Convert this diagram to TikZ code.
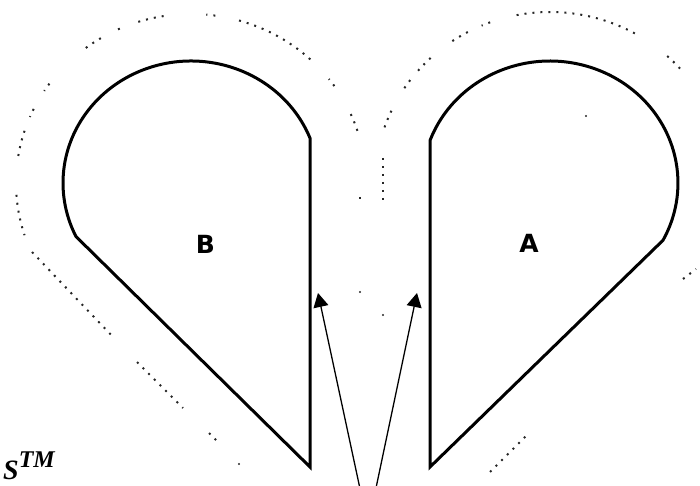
\documentclass[tikz,border=0pt]{standalone}
\usepackage{fontspec}
\usepackage{tikz}
\usetikzlibrary{arrows.meta}
\newfontfamily\labelfont{DejaVu Sans}
\newfontfamily\markfont{Liberation Serif}

\begin{document}
\begin{tikzpicture}[
  x=1pt, y=1pt,
  outline/.style={draw, line width=3pt},
  halo/.style={draw=black!85, line width=2pt, dash pattern=on 2pt off 6pt},
  speck/.style={fill=black!85},
  tag/.style={font=\labelfont\bfseries\fontsize{25}{25}\selectfont, inner sep=0pt},
  arrow/.style={-{Triangle[length=14pt,width=15pt]}, line width=1.3pt}
]
\useasboundingbox (0,0) rectangle (700,485);
\clip (0,0) rectangle (700,485);

% lobe B and lobe A
\draw[outline] (310,18) -- (310,346.9)
  arc[start angle=21.6, end angle=206, x radius=128, y radius=122] -- cycle;
\draw[outline] (430,18) -- (430,344.5)
  arc[start angle=159.6, end angle=-28, x radius=128, y radius=122] -- cycle;

% dotted halos
\foreach \a/\b in {18/26, 35/38, 47/75, 82/85, 99/108, 114/116, 121/128, 144/147, 154/157, 162/172, 184/198}
  \draw[halo, shift={(191,302)}] (\a:175 and 169) arc[start angle=\a, end angle=\b, x radius=175, y radius=169];
\foreach \a/\b in {42/49, 61/102, 110/113, 118/124, 133/139, 143/147, 155/162}
  \draw[halo, shift={(550,302)}] (\a:175 and 171) arc[start angle=\a, end angle=\b, x radius=175, y radius=171];
\draw[halo] (32,233) -- (114,147);
\draw[halo] (137,123) -- (183,77);
\draw[halo] (209,52) -- (217,44);
\draw[halo] (490,13) -- (529,52);
\draw[halo] (683,206) -- (696,216);
\draw[halo] (383,327) -- (383,280);
\draw[halo] (360,288) -- (360,280);
\fill[speck] (239,21) circle[radius=1.1];
\fill[speck] (360,193) circle[radius=1.1];
\fill[speck] (383,170) circle[radius=1.1];
\fill[speck] (586,369) circle[radius=1.1];

\node[tag] (labB) at (205.5,241) {B};
\node[tag] (labA) at (529,241.5) {A};

\coordinate (src) at (368,-41);
\coordinate (tipB) at (318,192);
\coordinate (tipA) at (417,192);
\draw[arrow] (src) -- (tipB);
\draw[arrow] (src) -- (tipA);

\node[anchor=base west, inner sep=0pt, font=\markfont\bfseries\itshape] (mark) at (3,6)
  {\fontsize{28}{28}\selectfont S\raisebox{12pt}{\fontsize{24}{24}\selectfont TM}};
\end{tikzpicture}
\end{document}
